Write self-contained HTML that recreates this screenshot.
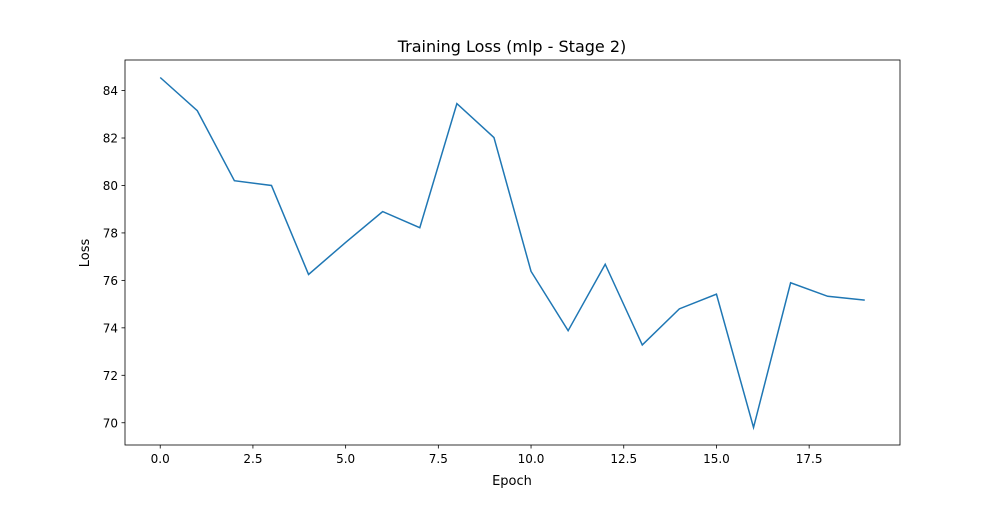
<!DOCTYPE html>
<html><head><meta charset="utf-8"><style>
body{margin:0;background:#fff;}
svg text{font-family:"DejaVu Sans","Liberation Sans",sans-serif;fill:#000;}
</style></head><body>
<svg id="chart" width="1000" height="500" xmlns="http://www.w3.org/2000/svg">
<rect width="1000" height="500" fill="#fff"/>
<text x="512" y="52" font-size="16" text-anchor="middle">Training Loss (mlp - Stage 2)</text>
<text x="512" y="485" font-size="13" text-anchor="middle">Epoch</text>
<text x="89" y="253" font-size="13" text-anchor="middle" transform="rotate(-90 89 253)">Loss</text>
<g id="ticks"></g>
<polyline id="line" fill="none" stroke="#1f77b4" stroke-width="1.5"/>
<rect x="125" y="60" width="775" height="385" fill="none" stroke="#000" stroke-width="0.8"/>
</svg>
<script>
const epochs=[0,1,2,3,4,5,6,7,8,9,10,11,12,13,14,15,16,17,18,19];
const losses=[84.55,83.15,80.2,80.0,76.25,77.6,78.9,78.22,83.45,82.02,76.38,73.88,76.68,73.28,74.8,75.42,69.8,75.9,75.33,75.17];
const xTicks=[0,2.5,5,7.5,10,12.5,15,17.5];
const xTickLabels=["0.0","2.5","5.0","7.5","10.0","12.5","15.0","17.5"];
const yTicks=[70,72,74,76,78,80,82,84];
const L=125,R=900,T=60,B=445;
const xmin=Math.min(...epochs),xmax=Math.max(...epochs),xp=(xmax-xmin)*0.05;
const ymin=Math.min(...losses),ymax=Math.max(...losses),yp=(ymax-ymin)*0.05;
const sx=v=>L+(v-(xmin-xp))/((xmax+xp)-(xmin-xp))*(R-L);
const sy=v=>B-(v-(ymin-yp))/((ymax+yp)-(ymin-yp))*(B-T);
const NS="http://www.w3.org/2000/svg";
const g=document.getElementById('ticks');
function mk(t,a){const e=document.createElementNS(NS,t);for(const k in a)e.setAttribute(k,a[k]);g.appendChild(e);return e;}
xTicks.forEach((v,i)=>{const x=sx(v);
 const l=mk('line',{x1:x,x2:x,y1:B,y2:B+3.5,stroke:'#000','stroke-width':0.8});
 
 
 const t=mk('text',{x:x,y:B+18,'font-size':12,'text-anchor':'middle'});t.textContent=xTickLabels[i];
 
 
});
yTicks.forEach(v=>{const y=sy(v);
 const l=mk('line',{x1:L-3.5,x2:L,y1:y,y2:y,stroke:'#000','stroke-width':0.8});
 
 
 const t=mk('text',{x:L-7,y:y+4.5,'font-size':12,'text-anchor':'end'});t.textContent=String(v);
 
 
});
document.getElementById('line').setAttribute('points',epochs.map((e,i)=>sx(e)+','+sy(losses[i])).join(' '));
</script>
</body></html>
